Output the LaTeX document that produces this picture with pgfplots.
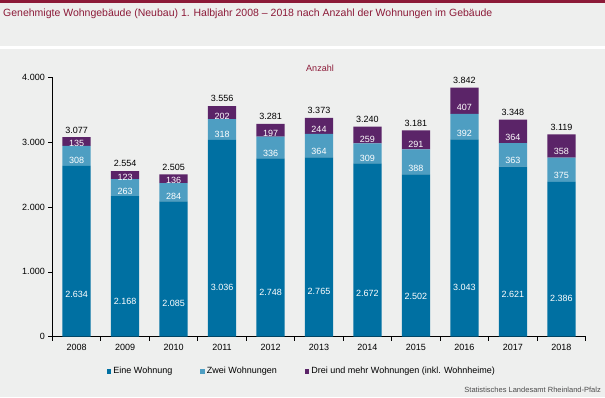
\documentclass[border=0pt]{standalone}
\usepackage{pgfplots}
\pgfplotsset{compat=1.18}
\usepackage{fontspec}
\setmainfont{Liberation Sans}
\definecolor{bg}{RGB}{238,239,238}
\definecolor{c1}{RGB}{0,112,162}
\definecolor{c2}{RGB}{78,158,194}
\definecolor{c3}{RGB}{91,36,104}
\definecolor{maroon}{RGB}{140,26,56}
\begin{document}
\begin{tikzpicture}[x=1pt,y=1pt]
\fill[bg] (0,0) rectangle (605,-397);
\fill[maroon] (0,0) rectangle (605,-2.5);
\fill[white] (0,-45.5) rectangle (605,-49);
\node[anchor=west, text=maroon, font=\fontsize{10.5}{12}\selectfont, inner sep=0] at (3,-14) {Genehmigte Wohngebäude (Neubau) 1. Halbjahr 2008 – 2018 nach Anzahl der Wohnungen im Gebäude};
\node[text=maroon, font=\fontsize{9}{10}\selectfont, inner sep=0] at (320,-68) {Anzahl};
\node[anchor=east, text=black!70, font=\fontsize{7.5}{8}\selectfont, inner sep=0] at (601,-390) {Statistisches Landesamt Rheinland-Pfalz};
\begin{axis}[
  at={(52.3pt,-336.7pt)}, anchor=south west,
  scale only axis, width=533.4pt, height=259.4pt,
  xmin=-0.5, xmax=10.5, ymin=0, ymax=4000,
  ybar stacked, bar width=28.4pt,
  axis x line*=bottom, axis y line*=left,
  axis line style={black, line width=0.7pt},
  tick style={black, line width=0.7pt},
  tick align=outside, major tick length=4pt,
  xtick={-0.5,0.5,...,10.5},
  x tick label as interval,
  xticklabels={2008,2009,2010,2011,2012,2013,2014,2015,2016,2017,2018},
  ytick={0,1000,2000,3000,4000},
  /pgf/number format/1000 sep={.},
  /pgf/number format/assume math mode=true,
  tick label style={font=\fontsize{9}{10}\selectfont, text=black},
  nodes near coords style={font=\fontsize{9}{10}\selectfont},
  legend style={at={(0.468,-0.134)}, anchor=center, draw=none, fill=none,
    font=\fontsize{9}{10}\selectfont, legend columns=3,
    /tikz/every even column/.append style={column sep=26pt}},
  legend cell align=left,
  legend image code/.code={\fill[#1] (0pt,-2.3pt) rectangle (4.6pt,2.3pt);},
]
\addplot[fill=c1, draw=none, nodes near coords, point meta=rawy,
  visualization depends on={rawy \as \ry},
  every node near coord/.append style={anchor=center, text=white, yshift={-0.016215*\ry pt}}]
  coordinates {(0,2634) (1,2168) (2,2085) (3,3036) (4,2748) (5,2765) (6,2672) (7,2502) (8,3043) (9,2621) (10,2386)};
\addplot[fill=c2, draw=none, nodes near coords, point meta=rawy,
  visualization depends on={rawy \as \ry},
  every node near coord/.append style={anchor=center, text=white, yshift={-0.016215*\ry pt}}]
  coordinates {(0,308) (1,263) (2,284) (3,318) (4,336) (5,364) (6,309) (7,388) (8,392) (9,363) (10,375)};
\addplot[fill=c3, draw=none, nodes near coords, point meta=rawy,
  visualization depends on={rawy \as \ry},
  every node near coord/.append style={anchor=center, text=white, yshift={-0.016215*\ry pt}}]
  coordinates {(0,135) (1,123) (2,136) (3,202) (4,197) (5,244) (6,259) (7,291) (8,407) (9,364) (10,358)};
\legend{Eine Wohnung, Zwei Wohnungen, Drei und mehr Wohnungen (inkl. Wohnheime)}
\end{axis}
\begin{axis}[
  at={(52.3pt,-336.7pt)}, anchor=south west,
  scale only axis, width=533.4pt, height=259.4pt,
  xmin=-0.5, xmax=10.5, ymin=0, ymax=4000,
  hide axis, clip=false,
  /pgf/number format/1000 sep={.},
  /pgf/number format/assume math mode=true,
  nodes near coords style={font=\fontsize{9}{10}\selectfont},
]
\addplot[draw=none, mark=none, nodes near coords, point meta=y,
  every node near coord/.append style={anchor=south, text=black, yshift=0.5pt}]
  coordinates {(0,3077) (1,2554) (2,2505) (3,3556) (4,3281) (5,3373) (6,3240) (7,3181) (8,3842) (9,3348) (10,3119)};
\end{axis}
\end{tikzpicture}
\end{document}
